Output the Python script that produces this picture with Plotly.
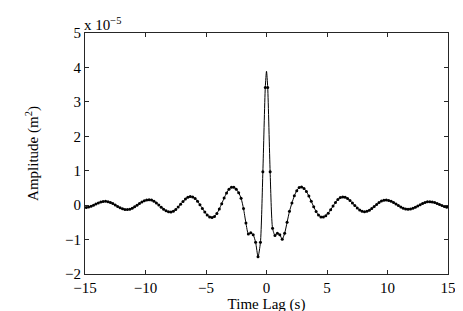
import plotly.graph_objects as go

# Sample grid (s): odd tenths from -14.9 to 14.9, spacing 0.2 s
t_start = -14.9
dt = 0.2
# Amplitude samples in units of 1e-5 m^2
amp = [
    -0.067, -0.053, -0.030, 0.000, 0.032, 0.063, 0.088, 0.104, 0.110, 0.102,
    0.080, 0.047, 0.006, -0.037, -0.076, -0.107, -0.126, -0.129, -0.117, -0.090,
    -0.050, -0.003, 0.046, 0.091, 0.128, 0.152, 0.160, 0.148, 0.116, 0.065,
    0.004, -0.060, -0.119, -0.166, -0.194, -0.199, -0.176, -0.127, -0.056, 0.025,
    0.106, 0.177, 0.226, 0.249, 0.239, 0.192, 0.113, 0.013, -0.096, -0.200,
    -0.285, -0.341, -0.360, -0.330, -0.244, -0.113, 0.044, 0.206, 0.353, 0.463,
    0.522, 0.520, 0.460, 0.360, 0.200, -0.100, -0.520, -0.840, -0.800, -0.860,
    -1.080, -1.500, -1.080, 0.970, 3.420, 3.420, 0.970, -0.670, -0.880, -0.820,
    -0.860, -0.990, -0.820, -0.500, -0.180, 0.060, 0.270, 0.420, 0.510, 0.530,
    0.486, 0.394, 0.263, 0.110, -0.046, -0.184, -0.288, -0.343, -0.345, -0.306,
    -0.233, -0.136, -0.028, 0.077, 0.163, 0.220, 0.240, 0.227, 0.190, 0.133,
    0.062, -0.012, -0.083, -0.140, -0.177, -0.190, -0.179, -0.148, -0.101, -0.043,
    0.018, 0.074, 0.118, 0.144, 0.149, 0.138, 0.112, 0.076, 0.032, -0.013,
    -0.056, -0.090, -0.112, -0.120, -0.113, -0.093, -0.062, -0.025, 0.015, 0.051,
    0.079, 0.096, 0.100, 0.092, 0.074, 0.048, 0.019, -0.011, -0.038, -0.058,
]
t = [round(t_start + i * dt, 1) for i in range(len(amp))]

# Interpolated curve peak (between the two top samples)
peak_t = [0.0]
peak_amp = [3.89]

line_pts = sorted(list(zip(t, amp)) + list(zip(peak_t, peak_amp)))
line_t = [p[0] for p in line_pts]
line_amp = [p[1] for p in line_pts]

x_ticks = [-15, -10, -5, 0, 5, 10, 15]
y_ticks = [-2, -1, 0, 1, 2, 3, 4, 5]

FONT = "Liberation Serif, Times New Roman, serif"
FS = 15

fig = go.Figure()
fig.add_trace(go.Scatter(x=line_t, y=line_amp, mode="lines",
                         line=dict(color="black", width=1, shape="spline", smoothing=0.6),
                         hoverinfo="skip", showlegend=False))
fig.add_trace(go.Scatter(x=t, y=amp, mode="markers",
                         marker=dict(color="black", size=3),
                         showlegend=False))

axis_common = dict(showline=True, linecolor="#262626", linewidth=1, mirror="allticks",
                   ticks="inside", ticklen=4, tickcolor="#262626", showgrid=False,
                   zeroline=False, tickfont=dict(family=FONT, size=FS, color="black"))

fig.update_layout(
    width=463, height=311,
    margin=dict(l=77, r=23, t=25, b=40),
    paper_bgcolor="white", plot_bgcolor="white",
    font=dict(family=FONT, color="black"),
    xaxis=dict(range=[-15, 15], tickvals=x_ticks,
               title=dict(text="Time Lag (s)", font=dict(family=FONT, size=FS), standoff=0),
               **axis_common),
    yaxis=dict(range=[-2, 5], tickvals=y_ticks,
               title=dict(text="Amplitude (m<sup>2</sup>)", font=dict(family=FONT, size=FS), standoff=22),
               **axis_common),
    annotations=[dict(text="x 10<sup>\u22125</sup>", xref="paper", yref="paper", x=0, y=1,
                      xanchor="left", yanchor="bottom", showarrow=False, xshift=-3, yshift=-2,
                      font=dict(family=FONT, size=FS, color="black"))],
)

fig.write_html("out.html")
